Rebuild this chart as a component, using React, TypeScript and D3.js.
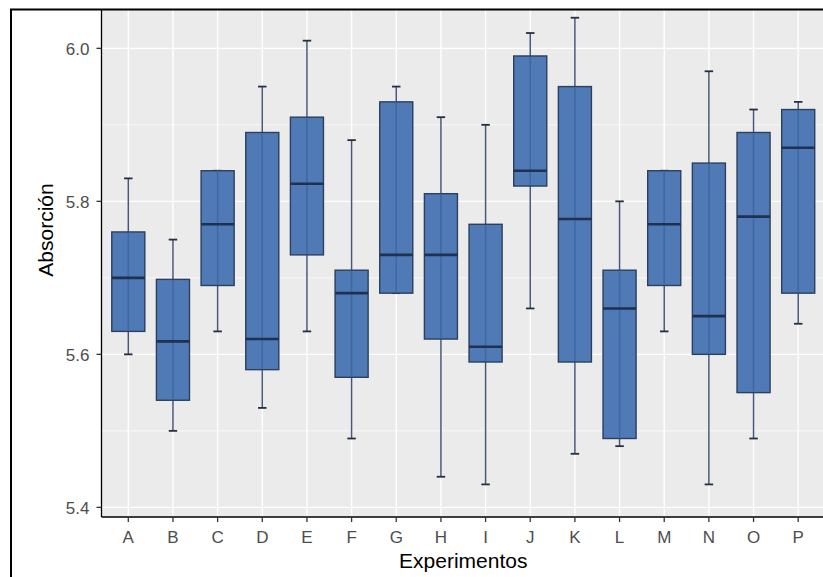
import React, { useEffect, useRef } from 'react'
import * as d3 from 'd3'

const experiments = ['A', 'B', 'C', 'D', 'E', 'F', 'G', 'H', 'I', 'J', 'K', 'L', 'M', 'N', 'O', 'P']
const lowerWhisker = [5.6, 5.5, 5.63, 5.53, 5.63, 5.49, 5.68, 5.44, 5.43, 5.66, 5.47, 5.48, 5.63, 5.43, 5.49, 5.64]
const lowerHinge = [5.63, 5.54, 5.69, 5.58, 5.73, 5.57, 5.68, 5.62, 5.59, 5.82, 5.59, 5.49, 5.69, 5.6, 5.55, 5.68]
const medians = [5.7, 5.617, 5.77, 5.62, 5.823, 5.68, 5.73, 5.73, 5.61, 5.84, 5.777, 5.66, 5.77, 5.65, 5.78, 5.87]
const upperHinge = [5.76, 5.698, 5.84, 5.89, 5.91, 5.71, 5.93, 5.81, 5.77, 5.99, 5.95, 5.71, 5.84, 5.85, 5.89, 5.92]
const upperWhisker = [5.83, 5.75, 5.84, 5.95, 6.01, 5.88, 5.95, 5.91, 5.9, 6.02, 6.04, 5.8, 5.84, 5.97, 5.92, 5.93]

const majorTicks = [5.4, 5.6, 5.8, 6.0]
const minorTicks = [5.5, 5.7, 5.9]

const xTitle = 'Experimentos'
const yTitle = 'Absorción'

const W = 823
const H = 577

const App = () => {
  const ref = useRef<SVGSVGElement>(null)

  useEffect(() => {
    const svg = d3.select(ref.current)
    svg.selectAll('*').remove()

    const left = 101.5
    const right = 825
    const top = 10
    const bottom = 517

    const x = d3.scaleBand().domain(experiments).range([left, right]).paddingInner(0).paddingOuter(0.1)
    const y = d3.scaleLinear().domain([5.3874, 6.0501]).range([bottom, top])

    const step = x.step()
    const boxW = step * 0.74
    const capW = step * 0.19
    const cx = (d: string) => (x(d) as number) + x.bandwidth() / 2

    const font = '"Liberation Sans", Arial, sans-serif'

    // panel
    svg
      .append('rect')
      .attr('x', left)
      .attr('y', top)
      .attr('width', right - left)
      .attr('height', bottom - top)
      .attr('fill', '#ebebeb')

    // grid
    const grid = svg.append('g').attr('stroke', '#ffffff')
    grid
      .selectAll('line.minor')
      .data(minorTicks)
      .join('line')
      .attr('x1', left)
      .attr('x2', right)
      .attr('y1', d => y(d))
      .attr('y2', d => y(d))
      .attr('stroke-width', 0.7)
    grid
      .selectAll('line.major')
      .data(majorTicks)
      .join('line')
      .attr('x1', left)
      .attr('x2', right)
      .attr('y1', d => y(d))
      .attr('y2', d => y(d))
      .attr('stroke-width', 1.4)
    grid
      .selectAll('line.vert')
      .data(experiments)
      .join('line')
      .attr('x1', d => cx(d))
      .attr('x2', d => cx(d))
      .attr('y1', top)
      .attr('y2', bottom)
      .attr('stroke-width', 1.4)

    const rows = experiments.map((name, i) => ({
      name,
      lo: lowerWhisker[i],
      q1: lowerHinge[i],
      med: medians[i],
      q3: upperHinge[i],
      hi: upperWhisker[i],
    }))

    const g = svg.append('g').selectAll('g').data(rows).join('g')

    // whisker stems outside the box
    g.append('line')
      .attr('x1', d => cx(d.name))
      .attr('x2', d => cx(d.name))
      .attr('y1', d => y(d.hi))
      .attr('y2', d => y(d.q3))
      .attr('stroke', '#46597a')
      .attr('stroke-width', 1.5)
    g.append('line')
      .attr('x1', d => cx(d.name))
      .attr('x2', d => cx(d.name))
      .attr('y1', d => y(d.q1))
      .attr('y2', d => y(d.lo))
      .attr('stroke', '#46597a')
      .attr('stroke-width', 1.5)

    // caps
    const caps = (key: 'lo' | 'hi') =>
      g
        .append('line')
        .attr('x1', d => cx(d.name) - capW / 2)
        .attr('x2', d => cx(d.name) + capW / 2)
        .attr('y1', d => y(d[key]))
        .attr('y2', d => y(d[key]))
        .attr('stroke', '#262f40')
        .attr('stroke-width', 1.8)
    caps('lo')
    caps('hi')

    // boxes
    g.append('rect')
      .attr('x', d => cx(d.name) - boxW / 2)
      .attr('width', boxW)
      .attr('y', d => y(d.q3))
      .attr('height', d => y(d.q1) - y(d.q3))
      .attr('fill', '#4f7ab5')
      .attr('stroke', '#2c3f5e')
      .attr('stroke-width', 1.4)

    // stem seen through the box
    g.append('line')
      .attr('x1', d => cx(d.name))
      .attr('x2', d => cx(d.name))
      .attr('y1', d => y(d.q3) + 1)
      .attr('y2', d => y(d.q1) - 1)
      .attr('stroke', '#3f67a1')
      .attr('stroke-width', 1.5)

    // medians
    g.append('line')
      .attr('x1', d => cx(d.name) - boxW / 2)
      .attr('x2', d => cx(d.name) + boxW / 2)
      .attr('y1', d => y(d.med))
      .attr('y2', d => y(d.med))
      .attr('stroke', '#1e3152')
      .attr('stroke-width', 2.6)

    // axes lines
    svg
      .append('line')
      .attr('x1', left)
      .attr('x2', left)
      .attr('y1', top)
      .attr('y2', bottom)
      .attr('stroke', '#000')
      .attr('stroke-width', 1.3)
    svg
      .append('line')
      .attr('x1', left)
      .attr('x2', right)
      .attr('y1', bottom)
      .attr('y2', bottom)
      .attr('stroke', '#000')
      .attr('stroke-width', 1.3)

    // y ticks
    const yt = svg.append('g').selectAll('g').data(majorTicks).join('g')
    yt.append('line')
      .attr('x1', left - 5)
      .attr('x2', left)
      .attr('y1', d => y(d))
      .attr('y2', d => y(d))
      .attr('stroke', '#333')
      .attr('stroke-width', 1.3)
    yt.append('text')
      .attr('x', left - 12)
      .attr('y', d => y(d))
      .attr('dy', '0.4em')
      .attr('text-anchor', 'end')
      .attr('font-family', font)
      .attr('font-size', 17)
      .attr('fill', '#4d4d4d')
      .text(d => d3.format('.1f')(d))

    // x ticks
    const xt = svg.append('g').selectAll('g').data(experiments).join('g')
    xt.append('line')
      .attr('x1', d => cx(d))
      .attr('x2', d => cx(d))
      .attr('y1', bottom)
      .attr('y2', bottom + 5)
      .attr('stroke', '#333')
      .attr('stroke-width', 1.3)
    xt.append('text')
      .attr('x', d => cx(d))
      .attr('y', 543)
      .attr('text-anchor', 'middle')
      .attr('font-family', font)
      .attr('font-size', 17)
      .attr('fill', '#4d4d4d')
      .text(d => d)

    // titles
    svg
      .append('text')
      .attr('x', (left + right) / 2)
      .attr('y', 567.5)
      .attr('text-anchor', 'middle')
      .attr('font-family', font)
      .attr('font-size', 21)
      .attr('fill', '#000')
      .text(xTitle)
    svg
      .append('text')
      .attr('transform', 'translate(53,230) rotate(-90)')
      .attr('text-anchor', 'middle')
      .attr('font-family', font)
      .attr('font-size', 21)
      .attr('fill', '#000')
      .text(yTitle)

    // outer frame
    svg
      .append('rect')
      .attr('x', 11)
      .attr('y', 9.5)
      .attr('width', 900)
      .attr('height', 700)
      .attr('fill', 'none')
      .attr('stroke', '#000')
      .attr('stroke-width', 2)
  }, [])

  return (
    <svg
      ref={ref}
      width={W}
      height={H}
      style={{ position: 'absolute', left: 0, top: 0, display: 'block', background: '#fff' }}
    />
  )
}

export default App
